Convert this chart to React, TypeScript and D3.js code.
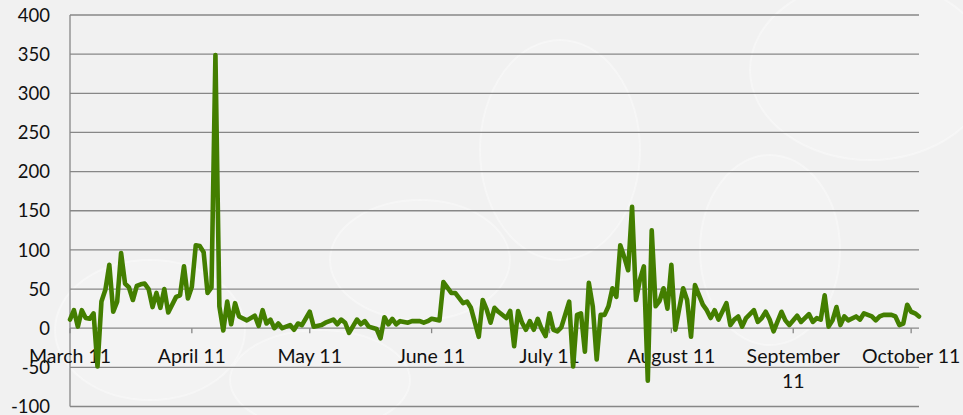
import React from 'react';
import * as d3 from 'd3';

// daily counts (2011)
const dates = [
  '2011-03-01', '2011-03-02', '2011-03-03', '2011-03-04', '2011-03-05', '2011-03-06', '2011-03-07', '2011-03-08',
  '2011-03-09', '2011-03-10', '2011-03-11', '2011-03-12', '2011-03-13', '2011-03-14', '2011-03-15', '2011-03-16',
  '2011-03-17', '2011-03-18', '2011-03-19', '2011-03-20', '2011-03-21', '2011-03-22', '2011-03-23', '2011-03-24',
  '2011-03-25', '2011-03-26', '2011-03-28', '2011-03-29', '2011-03-30', '2011-03-31',
  '2011-04-01', '2011-04-02', '2011-04-03', '2011-04-04', '2011-04-05', '2011-04-06', '2011-04-07', '2011-04-08',
  '2011-04-09', '2011-04-10', '2011-04-11', '2011-04-12', '2011-04-13', '2011-04-15', '2011-04-17', '2011-04-18',
  '2011-04-19', '2011-04-20', '2011-04-21', '2011-04-22', '2011-04-23', '2011-04-24', '2011-04-26', '2011-04-27',
  '2011-04-28', '2011-04-29',
  '2011-05-01', '2011-05-02', '2011-05-04', '2011-05-05', '2011-05-07', '2011-05-08', '2011-05-09', '2011-05-10',
  '2011-05-11', '2011-05-13', '2011-05-14', '2011-05-15', '2011-05-16', '2011-05-18', '2011-05-19', '2011-05-20',
  '2011-05-21', '2011-05-22', '2011-05-23', '2011-05-24', '2011-05-26', '2011-05-27', '2011-05-29', '2011-05-30',
  '2011-05-31',
  '2011-06-01', '2011-06-03', '2011-06-04', '2011-06-06', '2011-06-07', '2011-06-09', '2011-06-10', '2011-06-11',
  '2011-06-13', '2011-06-14', '2011-06-15', '2011-06-16', '2011-06-17', '2011-06-18', '2011-06-20', '2011-06-21',
  '2011-06-22', '2011-06-23', '2011-06-24', '2011-06-25', '2011-06-26', '2011-06-27', '2011-06-28', '2011-06-29',
  '2011-06-30',
  '2011-07-01', '2011-07-02', '2011-07-03', '2011-07-04', '2011-07-06', '2011-07-07', '2011-07-08', '2011-07-09',
  '2011-07-10', '2011-07-11', '2011-07-12', '2011-07-13', '2011-07-14', '2011-07-15', '2011-07-16', '2011-07-17',
  '2011-07-18', '2011-07-19', '2011-07-20', '2011-07-21', '2011-07-22', '2011-07-23', '2011-07-24', '2011-07-25',
  '2011-07-26', '2011-07-27', '2011-07-28', '2011-07-29', '2011-07-30', '2011-07-31',
  '2011-08-01', '2011-08-02', '2011-08-03', '2011-08-04', '2011-08-05', '2011-08-06', '2011-08-07', '2011-08-09',
  '2011-08-10', '2011-08-11', '2011-08-12', '2011-08-13', '2011-08-15', '2011-08-16', '2011-08-17', '2011-08-18',
  '2011-08-19', '2011-08-20', '2011-08-22', '2011-08-23', '2011-08-24', '2011-08-25', '2011-08-26', '2011-08-27',
  '2011-08-29', '2011-08-30', '2011-08-31',
  '2011-09-02', '2011-09-03', '2011-09-05', '2011-09-06', '2011-09-07', '2011-09-08', '2011-09-09', '2011-09-10',
  '2011-09-11', '2011-09-12', '2011-09-13', '2011-09-14', '2011-09-15', '2011-09-17', '2011-09-18', '2011-09-19',
  '2011-09-21', '2011-09-22', '2011-09-23', '2011-09-24', '2011-09-26', '2011-09-27', '2011-09-28', '2011-09-29',
  '2011-09-30',
  '2011-10-01', '2011-10-02', '2011-10-03',
];

const values = [
  11, 23, 2, 23, 13, 12, 19, -49,
  34, 49, 81, 21, 34, 96, 57, 52,
  36, 54, 56, 57, 50, 27, 45, 26,
  50, 20, 40, 42, 79, 38,
  53, 106, 105, 97, 45, 52, 349, 28,
  -3, 34, 5, 32, 15, 10, 16, 3,
  23, 6, 11, 0, 6, 0, 4, -2,
  6, 4,
  21, 2, 4, 7, 11, 5, 11, 7,
  -6, 11, 5, 9, 2, -1, -13, 14,
  5, 12, 5, 9, 7, 9, 9, 7,
  9,
  12, 10, 59, 45, 45, 32, 34, 26,
  -11, 36, 24, 7, 26, 21, 13, 22,
  -23, 22, 7, -2, 9, -2, 12, -1,
  -10,
  19, -2, -4, 1, 34, -49, 17, 19,
  -30, 58, 28, -40, 17, 17, 28, 51,
  40, 106, 91, 74, 155, 36, 62, 79,
  -67, 125, 28, 35, 51, 25,
  81, -2, 25, 51, 36, -11, 55, 30,
  23, 13, 23, 11, 32, 4, 11, 15,
  2, 13, 23, 8, 13, 21, 11, -4,
  21, 10, 4,
  16, 8, 18, 8, 13, 11, 42, 2,
  10, 27, 4, 15, 10, 15, 11, 19,
  15, 10, 15, 17, 17, 15, 4, 6,
  30,
  21, 19, 15,
];

const monthLabels = ['March 11', 'April 11', 'May 11', 'June 11', 'July 11', 'August 11', 'September 11', 'October 11'];
const yTicks = [400, 350, 300, 250, 200, 150, 100, 50, 0, -50, -100];

const W = 963;
const H = 415;
const left = 70;
const right = 919;
const top = 15;
const bottom = 406.5;
const font = 'Lato, "Open Sans", sans-serif';

const parse = d3.utcParse('%Y-%m-%d');

export default function App() {
  const data = dates.map((d, i) => ({ date: parse(d) as Date, value: values[i] }));

  const x = d3.scaleUtc()
    .domain([parse('2011-03-01') as Date, parse('2011-10-03') as Date])
    .range([left, right]);

  const y = d3.scaleLinear().domain([-100, 400]).range([bottom, top]);

  const months = d3.utcMonth.range(parse('2011-03-01') as Date, parse('2011-10-02') as Date);

  const line = d3.line<{ date: Date; value: number }>()
    .x(d => x(d.date))
    .y(d => y(d.value));

  return (
    <div style={{ position: 'absolute', left: 0, top: 0 }}>
      <svg width={W} height={H} style={{ display: 'block' }}>
        <rect width={W} height={H} fill="#f1f1f1" />
        {/* faint cell texture in the background */}
        <g fill="#f6f6f6" fillOpacity={0.5} stroke="#ffffff" strokeOpacity={0.35} strokeWidth={2}>
          <ellipse cx={150} cy={330} rx={95} ry={70} />
          <ellipse cx={420} cy={260} rx={90} ry={60} />
          <ellipse cx={560} cy={150} rx={80} ry={110} />
          <ellipse cx={870} cy={70} rx={120} ry={90} />
          <ellipse cx={770} cy={250} rx={70} ry={95} />
          <ellipse cx={320} cy={380} rx={90} ry={50} />
        </g>

        {yTicks.map(t => (
          <line key={t} x1={left} x2={right} y1={y(t)} y2={y(t)} stroke="#878787" strokeWidth={1.3} />
        ))}
        <line x1={left} x2={left} y1={top} y2={bottom} stroke="#878787" strokeWidth={1.3} />

        {months.map(m => (
          <line key={+m} x1={x(m)} x2={x(m)} y1={y(0)} y2={y(0) + 5} stroke="#878787" strokeWidth={1.3} />
        ))}

        {yTicks.map(t => (
          <text key={t} x={50} y={y(t)} dy="0.36em" textAnchor="end" fontFamily={font} fontSize={18.5} fill="#111">
            {t}
          </text>
        ))}

        {months.map((m, i) => {
          const label = monthLabels[i];
          const lines = label.length > 10 ? [label.slice(0, label.lastIndexOf(' ')), label.slice(label.lastIndexOf(' ') + 1)] : [label];
          return (
            <text key={+m} x={x(m)} y={363} textAnchor="middle" fontFamily={font} fontSize={19.5} fill="#111">
              {lines.map((l, j) => (
                <tspan key={j} x={x(m)} dy={j === 0 ? 0 : 25}>{l}</tspan>
              ))}
            </text>
          );
        })}

        <path d={line(data) || ''} fill="none" stroke="#437e00" strokeWidth={4.6} strokeLinejoin="round" strokeLinecap="round" />
      </svg>
    </div>
  );
}
